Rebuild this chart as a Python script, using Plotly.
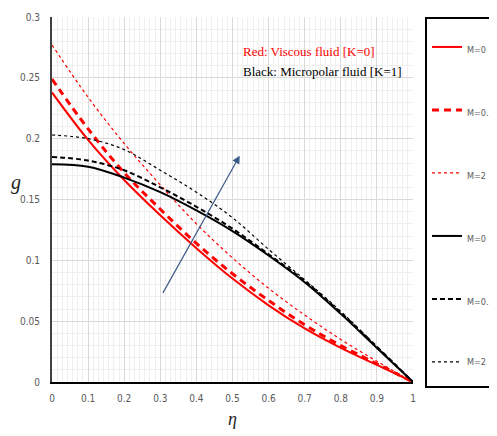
import plotly.graph_objects as go

eta = [0, 0.1, 0.2, 0.3, 0.4, 0.5, 0.6, 0.7, 0.8, 0.9, 1.0]

# K=0 (viscous fluid)
g_k0_m0 = [0.238, 0.199, 0.166, 0.137, 0.110, 0.085, 0.063, 0.044, 0.028, 0.014, 0.0]
g_k0_m05 = [0.249, 0.208, 0.172, 0.142, 0.114, 0.089, 0.067, 0.047, 0.030, 0.015, 0.0]
g_k0_m2 = [0.277, 0.234, 0.196, 0.162, 0.130, 0.102, 0.077, 0.055, 0.035, 0.017, 0.0]
# K=1 (micropolar fluid)
g_k1_m0 = [0.179, 0.177, 0.168, 0.156, 0.141, 0.124, 0.104, 0.082, 0.056, 0.028, 0.0]
g_k1_m05 = [0.185, 0.182, 0.174, 0.160, 0.144, 0.126, 0.105, 0.083, 0.057, 0.029, 0.0]
g_k1_m2 = [0.203, 0.200, 0.191, 0.174, 0.156, 0.135, 0.109, 0.084, 0.058, 0.029, 0.0]

legend_names = ["M=0", "M=0.5", "M=2", "M=0", "M=0.5", "M=2<br> "]
x_ticks = [0, 0.1, 0.2, 0.3, 0.4, 0.5, 0.6, 0.7, 0.8, 0.9, 1]
y_ticks = [0, 0.05, 0.1, 0.15, 0.2, 0.25, 0.3]

series = [g_k0_m0, g_k0_m05, g_k0_m2, g_k1_m0, g_k1_m05, g_k1_m2]
styles = [
    dict(color="#ff0000", width=2, dash="solid"),
    dict(color="#ff0000", width=3, dash="7px,5px"),
    dict(color="#ff0000", width=1.2, dash="dot"),
    dict(color="#000000", width=2, dash="solid"),
    dict(color="#000000", width=2, dash="5px,3px"),
    dict(color="#000000", width=1.2, dash="dot"),
]

fig = go.Figure()
for i, (ys, st, nm) in enumerate(zip(series, styles, legend_names)):
    fig.add_trace(go.Scatter(
        x=eta, y=ys, mode="lines", name=nm, line=st, line_shape="spline",
        legendgroup=f"g{i}", showlegend=True,
    ))

tick_font = dict(family="DejaVu Sans Condensed, Liberation Sans Narrow, Arial", size=10, color="#595959")

fig.update_layout(
    width=497, height=436,
    margin=dict(l=44, r=92, t=9, b=62, autoexpand=False),
    paper_bgcolor="white", plot_bgcolor="white",
    showlegend=True,
    legend=dict(
        x=1.0332, y=1.0, xanchor="left", yanchor="top",
        bordercolor="black", borderwidth=2, bgcolor="white",
        font=dict(family="DejaVu Sans Condensed, Arial", size=9, color="#595959"),
        tracegroupgap=44, traceorder="grouped", itemwidth=30, valign="top",
        title=dict(text=" ", font=dict(size=12)),
        maxheight=430,
    ),
    xaxis=dict(
        range=[0, 1], tickvals=x_ticks, ticktext=[str(v) for v in x_ticks],
        showgrid=True, gridcolor="#d9d9d9", gridwidth=1,
        minor=dict(dtick=0.1 / 7, tick0=0, showgrid=True, gridcolor="#efefef", gridwidth=1),
        showline=True, linecolor="black", linewidth=2,
        ticks="", tickfont=tick_font, ticklabelstandoff=6,
        zeroline=False,
        title=dict(text="<i>η</i>", font=dict(family="Liberation Serif, Times New Roman", size=18, color="#1f1f1f"), standoff=9),
    ),
    yaxis=dict(
        range=[0, 0.3], tickvals=y_ticks, ticktext=[str(v) for v in y_ticks],
        showgrid=True, gridcolor="#d9d9d9", gridwidth=1,
        minor=dict(dtick=0.01, tick0=0, showgrid=True, gridcolor="#efefef", gridwidth=1),
        showline=True, linecolor="#404040", linewidth=2,
        ticks="", tickfont=tick_font, ticklabelstandoff=8,
        zeroline=False,
    ),
)

fig.add_annotation(
    x=0.52, y=0.186, ax=0.305, ay=0.072, xref="x", yref="y", axref="x", ayref="y",
    showarrow=True, arrowhead=2, arrowsize=1.3, arrowwidth=1.2, arrowcolor="#3d5a8a", text="",
)
fig.add_annotation(
    x=0.5245, y=0.272, xref="x", yref="y", xanchor="left", yanchor="middle", showarrow=False,
    text="Red: Viscous fluid [K=0]",
    font=dict(family="Liberation Serif, Times New Roman", size=13, color="#ff0000"),
)
fig.add_annotation(
    x=0.5245, y=0.2555, xref="x", yref="y", xanchor="left", yanchor="middle", showarrow=False,
    text="Black: Micropolar fluid [K=1]",
    font=dict(family="Liberation Serif, Times New Roman", size=13, color="#000000"),
)
fig.add_annotation(
    x=-0.1, y=0.164, xref="paper", yref="y", xanchor="center", yanchor="middle", showarrow=False,
    text="<i>g</i>",
    font=dict(family="Liberation Serif, Times New Roman", size=20, color="#1f1f1f"),
)

fig.write_html("out.html")
